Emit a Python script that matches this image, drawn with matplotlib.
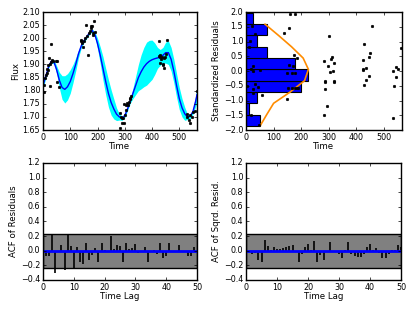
import matplotlib
matplotlib.use('Agg')
import matplotlib.pyplot as plt
import numpy as np

# light curve data (time, flux)
t_data = [2, 4, 7, 12, 14, 16, 20, 20, 22, 25, 26, 28, 31, 34, 38, 46, 53, 53, 59,
          138, 141, 144, 146, 150, 154, 156, 162, 166, 168, 172, 175, 177, 181, 183, 184, 187, 190,
          284, 284, 288, 290, 290, 294, 296, 299, 302, 303, 306, 309, 312, 315, 318, 321, 323,
          424, 424, 428, 428, 430, 433, 437, 439, 440, 443, 445, 447, 451, 455,
          528, 530, 534, 538, 540, 545, 552, 559, 565]
flux_data = [1.794, 1.822, 1.847, 1.86, 1.867, 1.882, 1.877, 1.898, 1.926, 1.818, 1.90, 1.911, 1.978, 1.918, 1.914, 1.914, 1.914, 1.832, 1.815,
             1.994, 1.99, 1.981, 1.968, 1.988, 2.0, 2.051, 2.007, 1.937, 2.02, 2.026, 2.039, 2.045, 2.045, 2.02, 2.013, 2.064, 2.022,
             1.656, 1.713, 1.70, 1.675, 1.694, 1.694, 1.675, 1.748, 1.707, 1.745, 1.726, 1.752, 1.745, 1.758, 1.767, 1.771, 1.781,
             1.99, 1.934, 1.928, 1.937, 1.907, 1.92, 1.93, 1.898, 1.901, 1.924, 1.886, 1.928, 1.94, 1.994,
             1.71, 1.70, 1.688, 1.675, 1.707, 1.70, 1.72, 1.722, 1.80]

# model mean and half-width of the confidence band
t_model = [0, 10, 20, 30, 40, 50, 60, 70, 80, 90, 100, 110, 120, 130, 140, 150, 160, 170, 180, 190,
           200, 210, 220, 230, 240, 250, 260, 270, 280, 290, 300, 310, 320, 330, 340, 350, 360, 370,
           380, 390, 400, 410, 420, 430, 440, 450, 460, 470, 480, 490, 500, 510, 520, 530, 540, 550, 560, 565]
flux_model = [1.82, 1.855, 1.89, 1.912, 1.91, 1.88, 1.84, 1.812, 1.805, 1.815, 1.835, 1.865, 1.90, 1.94, 1.97, 1.99, 2.005, 2.02, 2.03, 2.015,
              1.98, 1.935, 1.885, 1.835, 1.79, 1.755, 1.73, 1.71, 1.70, 1.695, 1.705, 1.73, 1.76, 1.79, 1.82, 1.85, 1.872, 1.89,
              1.903, 1.912, 1.918, 1.922, 1.925, 1.927, 1.935, 1.945, 1.945, 1.92, 1.875, 1.82, 1.77, 1.735, 1.712, 1.70, 1.702, 1.72, 1.76, 1.785]
flux_err = [0.012, 0.008, 0.006, 0.006, 0.008, 0.015, 0.03, 0.045, 0.052, 0.05, 0.045, 0.035, 0.025, 0.015, 0.008, 0.007, 0.006, 0.006, 0.006, 0.01,
            0.02, 0.032, 0.045, 0.05, 0.052, 0.048, 0.038, 0.024, 0.012, 0.008, 0.007, 0.007, 0.008, 0.02, 0.035, 0.05, 0.065, 0.075,
            0.082, 0.08, 0.075, 0.06, 0.04, 0.03, 0.03, 0.04, 0.045, 0.045, 0.045, 0.045, 0.042, 0.035, 0.025, 0.01, 0.008, 0.01, 0.02, 0.03]

# standardized residuals
t_resid = [3, 12, 15, 17, 18, 21, 24, 24, 27, 27, 33, 33, 45, 48, 51, 57,
           139, 148, 148, 151, 156, 156, 160, 165, 165, 170, 172, 176, 178, 178, 183, 184, 189,
           284, 284, 287, 287, 287, 293, 296, 299, 305, 309, 311, 315, 317, 318, 320,
           423, 423, 424, 427, 427, 435, 436, 445, 446, 448, 457,
           533, 533, 536, 545, 545, 550, 560]
resid = [-0.5, 0.81, 1.03, -1.5, 0.08, 1.52, -0.62, -0.76, 0.17, -0.01, 1.26, -0.45, -0.54, -1.82, 0.02, -0.83,
         1.29, -0.95, -0.06, -0.57, 1.46, 0.22, 1.93, -0.06, -0.57, 0.17, 0.55, -0.06, 1.93, -0.57, -0.57, 0.44, -0.57,
         -1.5, 0.34, -0.36, -0.62, -0.33, -1.18, 0.17, 1.2, -0.03, 0.40, 0.46, -0.01, -0.36, -0.33, 0.26,
         0.38, 0.08, 0.02, 0.93, -0.48, 0.11, -0.29, -0.18, 0.49, 0.61, 1.52,
         -1.59, -0.01, -0.5, 0.14, -0.21, 0.08, 0.79]

# histogram of residuals (drawn sideways) and reference curve
hist_edges = [-1.86, -1.477, -1.094, -0.711, -0.328, 0.055, 0.438, 0.821, 1.204, 1.587, 1.97]
hist_vals = [50, 12, 39, 200, 224, 176, 75, 39, 75, 27]
curve_x = [51, 75, 100, 160, 212, 226, 207, 165, 118, 69]
curve_y = [-1.86, -1.477, -1.094, -0.711, -0.328, 0.055, 0.438, 0.821, 1.204, 1.587]

# autocorrelations, lags 0..50
acf_resid = [1.0, -0.07, -0.07, 0.21, -0.30, -0.02, 0.08, -0.26, 0.23, 0.07, -0.23, 0.05, -0.16, -0.18, 0.11, -0.13,
             -0.06, 0.04, -0.16, 0.11, 0.01, 0.0, 0.20, 0.03, 0.08, 0.06, -0.16, 0.10, 0.02, 0.04, 0.09, -0.03,
             0.0, 0.05, -0.16, -0.02, 0.01, -0.05, 0.11, -0.10, -0.07, 0.10, -0.02, 0.0, 0.08, 0.0, 0.0, -0.07, -0.07, 0.05, 0.0]
acf_sq = [1.0, 0.0, -0.05, -0.03, -0.13, -0.16, 0.15, 0.07, 0.01, 0.05, 0.02, 0.02, 0.04, 0.05, 0.07, 0.08,
          -0.02, -0.16, -0.05, 0.05, 0.09, 0.01, 0.14, -0.15, -0.06, -0.13, -0.01, 0.12, 0.0, -0.01, -0.04, -0.10,
          0.01, 0.12, -0.04, -0.07, -0.09, -0.09, -0.05, 0.05, 0.09, 0.01, 0.04, -0.03, -0.10, -0.10, -0.05, 0.01, 0.01, 0.08, 0.05]
acf_bound = 0.23

plt.style.use('classic')
plt.rcParams['font.size'] = 6
plt.rcParams['xtick.labelsize'] = 5.8
plt.rcParams['ytick.labelsize'] = 5.8
plt.rcParams['axes.labelsize'] = 6.2
plt.rcParams['xtick.major.size'] = 2.5
plt.rcParams['ytick.major.size'] = 2.5
plt.rcParams['xtick.major.pad'] = 2
plt.rcParams['ytick.major.pad'] = 2

fig = plt.figure(figsize=(4.15, 3.12), dpi=100, facecolor='white')

ax1 = fig.add_axes([0.1036, 0.5833, 0.3711, 0.3782])
ax1.fill_between(t_model, np.array(flux_model) - np.array(flux_err), np.array(flux_model) + np.array(flux_err),
                 color='cyan', lw=0)
ax1.plot(t_model, flux_model, color='b', lw=1)
ax1.plot(t_data, flux_data, 'k.', ms=3.5)
ax1.set_xlim(0, 565)
ax1.set_ylim(1.65, 2.10)
ax1.set_yticks(np.arange(1.65, 2.101, 0.05))
ax1.set_xticks([0, 100, 200, 300, 400, 500])
ax1.set_xlabel('Time', labelpad=0)
ax1.set_ylabel('Flux', labelpad=2)

ax2 = fig.add_axes([0.5928, 0.5833, 0.3759, 0.3782])
edges = np.array(hist_edges)
ax2.barh(edges[:-1], hist_vals, height=np.diff(edges), align='edge', color='b', edgecolor='k', lw=0.8)
ax2.plot(curve_x, curve_y, color='darkorange', lw=1.2)
ax2.plot(t_resid, resid, 'k.', ms=3.5)
ax2.set_xlim(0, 565)
ax2.set_ylim(-2.0, 2.0)
ax2.set_yticks(np.arange(-2.0, 2.01, 0.5))
ax2.set_xticks([0, 100, 200, 300, 400, 500])
ax2.set_xlabel('Time', labelpad=0)
ax2.set_ylabel('Standardized Residuals', labelpad=2)

lags = np.arange(len(acf_resid))
for ax, acf, lab in [(fig.add_axes([0.1036, 0.1026, 0.3711, 0.375]), acf_resid, 'ACF of Residuals'),
                     (fig.add_axes([0.5928, 0.1026, 0.3735, 0.375]), acf_sq, 'ACF of Sqrd. Resid.')]:
    ax.fill_between([0, 50], -acf_bound, acf_bound, facecolor='0.5', edgecolor='k', lw=1)
    ax.vlines(lags, 0, acf, color='k', lw=1.2)
    ax.axhline(0, color='b', lw=2)
    ax.set_xlim(0, 50)
    ax.set_ylim(-0.4, 1.2)
    ax.set_yticks(np.arange(-0.4, 1.21, 0.2))
    ax.set_xticks([0, 10, 20, 30, 40, 50])
    ax.set_xlabel('Time Lag', labelpad=0)
    ax.set_ylabel(lab, labelpad=2)

plt.savefig('out.png', dpi=100, facecolor='white')
